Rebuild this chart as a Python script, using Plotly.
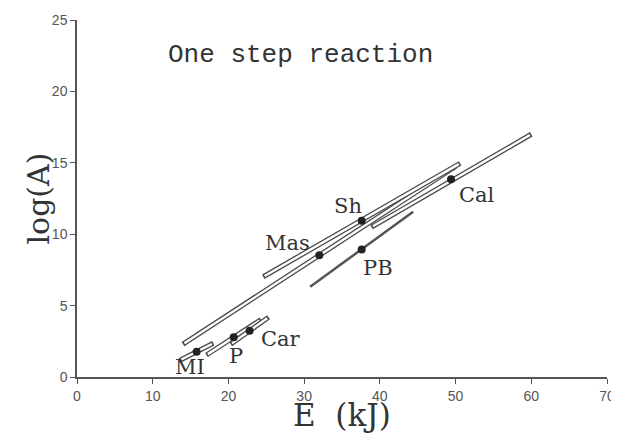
import plotly.graph_objects as go

# ---- data ----
point_names = ["MI", "P", "Car", "Mas", "Sh", "PB", "Cal"]
point_E = [15.8, 20.7, 22.8, 32.0, 37.6, 37.6, 49.4]
point_logA = [1.77, 2.78, 3.24, 8.52, 10.95, 8.92, 13.84]

# band (confidence range) start / end for each reaction
band_names = ["Mas", "MI", "P", "Car", "Sh", "Cal"]
band_E0 = [14.0, 13.6, 17.1, 20.3, 24.6, 38.9]
band_A0 = [2.30, 1.18, 1.54, 2.30, 7.02, 10.50]
band_E1 = [50.0, 18.0, 24.3, 25.3, 50.6, 60.0]
band_A1 = [14.74, 2.36, 4.02, 4.18, 14.96, 17.00]

pb_E = [30.8, 44.4]
pb_logA = [6.32, 11.58]

label_names = ["MI", "P", "Car", "Mas", "Sh", "PB", "Cal"]
label_E = [14.9, 21.0, 27.0, 27.8, 35.8, 39.7, 52.8]
label_logA = [0.7, 1.45, 2.65, 9.4, 11.95, 7.6, 12.75]

x_ticks = [0, 10, 20, 30, 40, 50, 60, 70]
y_ticks = [0, 5, 10, 15, 20, 25]

fig = go.Figure()

edge = "#4a4a4a"
for i, name in enumerate(band_names):
    e0, a0, e1, a1 = band_E0[i], band_A0[i], band_E1[i], band_A1[i]
    fig.add_trace(go.Scatter(x=[e0, e1], y=[a0, a1], mode="lines",
                             line=dict(color=edge, width=5), hoverinfo="skip",
                             showlegend=False))
    # white core, slightly shortened so the band ends look closed
    f = 0.18 / (e1 - e0)
    fig.add_trace(go.Scatter(x=[e0 + f * (e1 - e0), e1 - f * (e1 - e0)],
                             y=[a0 + f * (a1 - a0), a1 - f * (a1 - a0)],
                             mode="lines", line=dict(color="white", width=2.4),
                             hoverinfo="skip", showlegend=False))

fig.add_trace(go.Scatter(x=pb_E, y=pb_logA, mode="lines",
                         line=dict(color="#555555", width=2.5), showlegend=False))

fig.add_trace(go.Scatter(x=point_E, y=point_logA, mode="markers",
                         marker=dict(color="#222222", size=8), text=point_names,
                         showlegend=False))

for n, xe, ya in zip(label_names, label_E, label_logA):
    fig.add_annotation(x=xe, y=ya, text=n, showarrow=False,
                       font=dict(family="DejaVu Serif", size=21, color="#333333"))

fig.add_annotation(x=29.5, y=22.55, text="One step reaction", showarrow=False,
                   font=dict(family="Liberation Mono", size=26, color="#333333"))

# axis titles
fig.add_annotation(xref="paper", yref="paper", x=0.5, y=0, yshift=-38,
                   text="E  (kJ)", showarrow=False, yanchor="middle",
                   font=dict(family="DejaVu Serif", size=31, color="#333333"))
fig.add_annotation(xref="paper", yref="paper", x=0, xshift=-39, y=0.50,
                   text="log(A)", showarrow=False, textangle=-90, xanchor="center",
                   font=dict(family="DejaVu Serif", size=30, color="#333333"))

axis_common = dict(showgrid=False, zeroline=False, showline=True, linecolor="#555555",
                   linewidth=1.5, ticks="outside", ticklen=5, tickcolor="#555555",
                   tickwidth=1.2, automargin=False,
                   tickfont=dict(family="Liberation Sans", size=14, color="#555555"))

fig.update_xaxes(range=[0, 70], tickvals=x_ticks, **axis_common)
fig.update_yaxes(range=[0, 25], tickvals=y_ticks, **axis_common)

# page body adds an 8px margin, so the figure is sized to fit the 619x434 window
fig.update_layout(width=611, height=426, plot_bgcolor="white", paper_bgcolor="white",
                  margin=dict(l=69, r=12, t=12, b=57))

fig.write_html("out.html")
